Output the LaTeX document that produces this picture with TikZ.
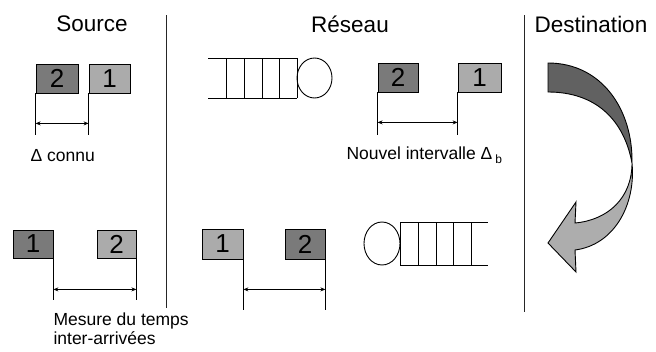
\documentclass[tikz,border=0pt]{standalone}
\usepackage{fontspec}
\setmainfont{Liberation Sans}
\usetikzlibrary{arrows.meta,shapes.geometric}
\begin{document}
\begin{tikzpicture}[x=1pt,y=-1pt,
  pkt/.style={draw=black,line width=0.8pt,minimum height=29pt,inner sep=0pt,font=\fontsize{26}{26}\selectfont},
  pdark/.style={pkt,fill=black!52},
  plight/.style={pkt,fill=black!33},
  tick/.style={line width=0.9pt},
  dim/.style={line width=0.8pt,{Stealth[length=5pt,width=4pt]}-{Stealth[length=5pt,width=4pt]}},
  title/.style={font=\fontsize{22.5}{22.5}\selectfont},
  lab/.style={font=\fontsize{17.5}{19}\selectfont},
  sep/.style={line width=1pt,black!85},
  q/.style={line width=0.9pt}]
\useasboundingbox (0,0) rectangle (656,351);
% titles
\node[title] (tsrc) at (92,24) {Source};
\node[title] (tnet) at (350,24) {Réseau};
\node[title] (tdst) at (591,24) {Destination};
% separators
\draw[sep] (166,15) -- (166,308);
\draw[sep] (524,15) -- (524,312);
% top source packets
\node[pdark,minimum width=42pt] (b2a) at (57,78.5) {2};
\node[plight,minimum width=41pt] (b1a) at (109.5,78.5) {1};
\draw[tick] (b2a.south west) -- ++(0,42);
\draw[tick] (b1a.south west) -- ++(0,42);
\draw[dim] ([yshift=-30pt]b2a.south west) -- ([yshift=-30pt]b1a.south west);
\node[lab,anchor=west] (lconnu) at (27,156) {Δ connu};
% top network queue
\draw[q] (208,58) -- (297,58) (208,98) -- (297,98);
\foreach \xx in {226,244,262,279,297} \draw[q] (\xx,58) -- (\xx,98);
\node[draw,ellipse,line width=0.9pt,minimum width=35pt,minimum height=40pt,inner sep=0pt] (srv1) at (314.5,78) {};
% top network packets
\node[pdark,minimum width=40pt] (b2b) at (398,77.5) {2};
\node[plight,minimum width=43pt] (b1b) at (479.5,77.5) {1};
\draw[tick] (b2b.south west) -- ++(0,43);
\draw[tick] (b1b.south west) -- ++(0,43);
\draw[dim] ([yshift=-30pt]b2b.south west) -- ([yshift=-30pt]b1b.south west);
\node[lab,anchor=west] (lnouv) at (343,155) {Nouvel intervalle Δ\,{\fontsize{12}{12}\selectfont\raisebox{-4pt}{b}}};
% bottom source packets
\node[pdark,minimum width=40pt,minimum height=28pt] (b1c) at (33,244) {1};
\node[plight,minimum width=39pt,minimum height=28pt] (b2c) at (116.5,244) {2};
\draw[tick] (b1c.south east) -- ++(0,42);
\draw[tick] (b2c.south east) -- ++(0,42);
\draw[dim] ([yshift=-31pt]b1c.south east) -- ([yshift=-31pt]b2c.south east);
\node[lab,anchor=north west,align=left] (lmes) at (50,309) {Mesure du temps\\inter-arrivées};
% bottom network packets
\node[plight,minimum width=41pt,minimum height=30pt] (b1d) at (222.5,244) {1};
\node[pdark,minimum width=40pt,minimum height=30pt] (b2d) at (305,244) {2};
\draw[tick] (b1d.south east) -- ++(0,51);
\draw[tick] (b2d.south east) -- ++(0,51);
\draw[dim] ([yshift=-30pt]b1d.south east) -- ([yshift=-30pt]b2d.south east);
% bottom network queue
\node[draw,ellipse,line width=0.9pt,minimum width=36pt,minimum height=43pt,inner sep=0pt] (srv2) at (382,243.5) {};
\draw[q] (400,222) -- (488,222) (400,265) -- (488,265);
\foreach \xx in {400,418,436,453,471} \draw[q] (\xx,222) -- (\xx,265);
% destination curved arrow
\fill[black!62,draw=black,line width=0.9pt]
  (548,63) .. controls (602,63) and (633,110) .. (632,163)
  .. controls (624,120) and (596,92) .. (548,92) -- cycle;
\fill[black!32,draw=black,line width=0.9pt]
  (632,163) .. controls (632,198) and (608,220) .. (575,223)
  -- (576,202) -- (548,243) -- (576,272) -- (575,250)
  .. controls (614,245) and (636,205) .. (632,163) -- cycle;
\end{tikzpicture}
\end{document}
